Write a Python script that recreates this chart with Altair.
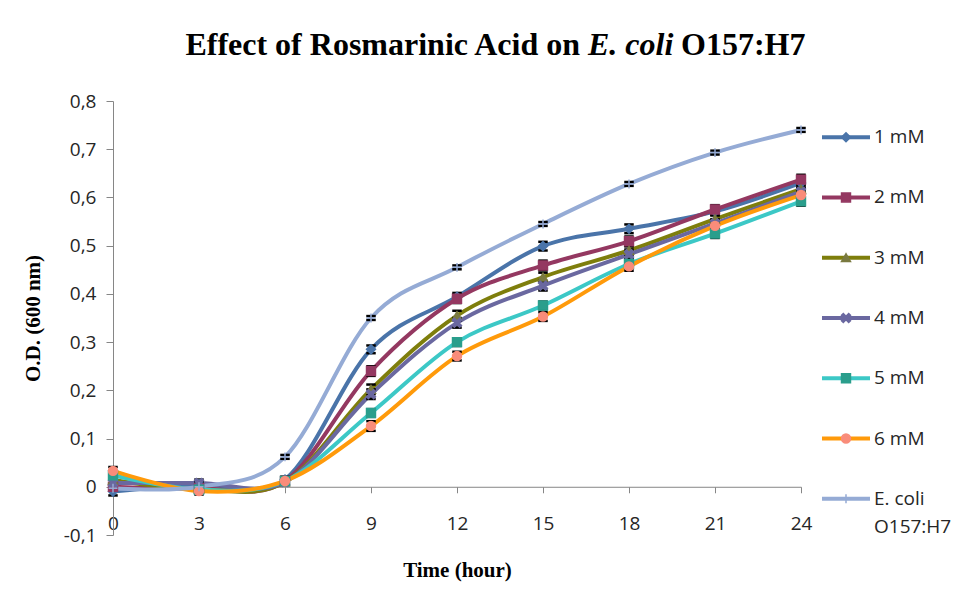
import altair as alt
import pandas as pd

# ---------------- data ----------------
time_h = [0, 3, 6, 9, 12, 15, 18, 21, 24]
series_names = ["1 mM", "2 mM", "3 mM", "4 mM", "5 mM", "6 mM", "E. coli O157:H7"]

od_1mM = [-0.010, 0.005, 0.015, 0.285, 0.394, 0.499, 0.535, 0.571, 0.630]
od_2mM = [0.000, -0.003, 0.012, 0.240, 0.390, 0.459, 0.509, 0.575, 0.637]
od_3mM = [0.014, -0.005, 0.010, 0.202, 0.355, 0.435, 0.490, 0.555, 0.617]
od_4mM = [0.008, 0.008, 0.010, 0.192, 0.340, 0.417, 0.482, 0.546, 0.612]
od_5mM = [0.024, -0.006, 0.012, 0.153, 0.300, 0.376, 0.462, 0.525, 0.592]
od_6mM = [0.033, -0.009, 0.012, 0.126, 0.271, 0.353, 0.457, 0.541, 0.605]
od_ecoli = [-0.003, 0.000, 0.062, 0.350, 0.455, 0.545, 0.628, 0.693, 0.740]

err_1mM = [0.008, 0.006, 0.006, 0.008, 0.008, 0.009, 0.009, 0.008, 0.010]
err_2mM = [0.007, 0.006, 0.006, 0.010, 0.009, 0.010, 0.010, 0.009, 0.010]
err_3mM = [0.008, 0.006, 0.006, 0.010, 0.010, 0.009, 0.009, 0.008, 0.009]
err_4mM = [0.008, 0.007, 0.006, 0.010, 0.010, 0.010, 0.010, 0.009, 0.009]
err_5mM = [0.008, 0.006, 0.006, 0.008, 0.008, 0.008, 0.009, 0.009, 0.009]
err_6mM = [0.008, 0.007, 0.006, 0.010, 0.009, 0.009, 0.009, 0.008, 0.008]
err_ecoli = [0.004, 0.004, 0.004, 0.004, 0.004, 0.004, 0.004, 0.004, 0.004]

line_colors = ["#4A74A9", "#943861", "#7E7E0C", "#6A68A0", "#3CC8C6", "#FF9A0A", "#95ABD5"]
marker_fill = ["#4A74A9", "#943861", "#7A7A40", "#6A68A0", "#2A9E8C", "#F98C7A", "#95ABD5"]
marker_shapes = [
    "diamond",
    "square",
    "triangle-up",
    "M-1,-0.6L-0.6,-1L0,-0.4L0.6,-1L1,-0.6L0.4,0L1,0.6L0.6,1L0,0.4L-0.6,1L-1,0.6L-0.4,0Z",
    "square",
    "circle",
    "M-1,0L1,0M0,-1L0,1",
]
legend_line1 = ["1 mM", "2 mM", "3 mM", "4 mM", "5 mM", "6 mM", "E. coli"]
legend_line2 = ["", "", "", "", "", "", "O157:H7"]

title_parts = ["Effect of Rosmarinic Acid on", "E. coli", "O157:H7"]
y_ticks = [-0.1, 0, 0.1, 0.2, 0.3, 0.4, 0.5, 0.6, 0.7, 0.8]
x_ticks = [0, 3, 6, 9, 12, 15, 18, 21, 24]

# ---------------- build table ----------------
all_od = [od_1mM, od_2mM, od_3mM, od_4mM, od_5mM, od_6mM, od_ecoli]
all_err = [err_1mM, err_2mM, err_3mM, err_4mM, err_5mM, err_6mM, err_ecoli]
rows = []
for k, (name, ods, errs) in enumerate(zip(series_names, all_od, all_err)):
    for t, v, e in zip(time_h, ods, errs):
        rows.append({"series": name, "k": k, "time": t, "od": v, "lo": v - e, "hi": v + e})
df = pd.DataFrame(rows)

leg = pd.DataFrame({"series": series_names, "l1": legend_line1, "l2": legend_line2})

W, H = 688, 434
zero_offset = -H * 0.1 / 0.9

color_scale = alt.Scale(domain=series_names, range=line_colors)
fill_scale = alt.Scale(domain=series_names, range=marker_fill)
shape_scale = alt.Scale(domain=series_names, range=marker_shapes)

xs = alt.Scale(domain=[0, 24], nice=False, zero=False)
ys = alt.Scale(domain=[-0.1, 0.8], nice=False, zero=False)

x_axis = alt.Axis(
    values=x_ticks, format="d", offset=zero_offset, tickSize=6, labelPadding=22,
    title="Time (hour)", titlePadding=26, labelOverlap=False, labelFlush=False, labelBound=False,
)
y_axis = alt.Axis(
    values=y_ticks, tickSize=7, labelPadding=10, title="O.D. (600 nm)", titlePadding=20,
    labelExpr="datum.value == 0 ? '0' : replace(replace(format(datum.value, '.1f'), '.', ','), '\u2212', '-')",
    labelOverlap=False, labelFlush=False, labelBound=False,
)

base = alt.Chart(df)

lines = base.mark_line(interpolate="cardinal", strokeWidth=4).encode(
    x=alt.X("time:Q", scale=xs, axis=x_axis),
    y=alt.Y("od:Q", scale=ys, axis=y_axis),
    color=alt.Color("series:N", scale=color_scale, legend=None),
    detail="series:N",
)

err_rule = base.mark_rule(color="black", strokeWidth=1.5).encode(
    x="time:Q", y="lo:Q", y2="hi:Q"
)
err_lo = base.mark_point(shape="stroke", size=90, strokeWidth=2.5, color="black", opacity=1).encode(
    x="time:Q", y="lo:Q"
)
err_hi = base.mark_point(shape="stroke", size=90, strokeWidth=2.5, color="black", opacity=1).encode(
    x="time:Q", y="hi:Q"
)

points = base.mark_point(filled=True, size=80, opacity=1, strokeWidth=1.5).encode(
    x="time:Q",
    y="od:Q",
    fill=alt.Fill("series:N", scale=fill_scale, legend=None),
    stroke=alt.Stroke("series:N", scale=fill_scale, legend=None),
    shape=alt.Shape("series:N", scale=shape_scale, legend=None),
)

data_layer = alt.layer(lines, err_rule, err_lo, err_hi, points)

# ---- legend drawn as marks on an independent point scale ----
leg_y = alt.Y("series:N", scale=alt.Scale(type="point", domain=series_names, padding=0.6), axis=None)
lbase = alt.Chart(leg)
leg_rule = lbase.mark_rule(strokeWidth=4).encode(
    x=alt.value(709), x2=alt.value(757), y=leg_y,
    color=alt.Color("series:N", scale=color_scale, legend=None),
)
leg_pt = lbase.mark_point(filled=True, size=80, opacity=1, strokeWidth=1.5).encode(
    x=alt.value(733), y=leg_y,
    fill=alt.Fill("series:N", scale=fill_scale, legend=None),
    stroke=alt.Stroke("series:N", scale=fill_scale, legend=None),
    shape=alt.Shape("series:N", scale=shape_scale, legend=None),
)
leg_t1 = lbase.mark_text(align="left", baseline="middle", font="Open Sans", fontSize=19, color="#262626").encode(
    x=alt.value(761), y=leg_y, text="l1:N"
)
leg_t2 = lbase.mark_text(align="left", baseline="middle", font="Open Sans", fontSize=19, color="#262626", dy=28).encode(
    x=alt.value(761), y=leg_y, text="l2:N"
)
legend_layer = alt.layer(leg_rule, leg_pt, leg_t1, leg_t2)

# ---- title with an italic part ----
tdf = pd.DataFrame({"t": title_parts})
t_a = alt.Chart(tdf).transform_filter(alt.datum.t == title_parts[0]).mark_text(
    align="right", baseline="alphabetic", font="Liberation Serif", fontSize=32, fontWeight="bold", color="black"
).encode(x=alt.value(467), y=alt.value(-46), text="t:N")
t_b = alt.Chart(tdf).transform_filter(alt.datum.t == title_parts[1]).mark_text(
    align="left", baseline="alphabetic", font="Liberation Serif", fontSize=32, fontWeight="bold",
    fontStyle="italic", color="black"
).encode(x=alt.value(475), y=alt.value(-46), text="t:N")
t_c = alt.Chart(tdf).transform_filter(alt.datum.t == title_parts[2]).mark_text(
    align="left", baseline="alphabetic", font="Liberation Serif", fontSize=32, fontWeight="bold", color="black"
).encode(x=alt.value(568), y=alt.value(-46), text="t:N")

chart = (
    alt.layer(data_layer, legend_layer, t_a, t_b, t_c)
    .resolve_scale(y="independent")
    .properties(
        width=W, height=H,
        autosize=alt.AutoSizeParams(type="none"),
        padding={"left": 105, "top": 93, "right": 164, "bottom": 65},
        background="white",
    )
    .configure_view(stroke=None)
    .configure_axis(
        grid=False,
        domainColor="#868686",
        tickColor="#868686",
        domainWidth=1,
        labelFont="Open Sans",
        labelFontSize=19,
        labelColor="#262626",
        titleFont="Liberation Serif",
        titleFontSize=21,
        titleFontWeight="bold",
        titleColor="black",
    )
)

chart.save("out.html", embed_options={"renderer": "svg", "actions": False})
